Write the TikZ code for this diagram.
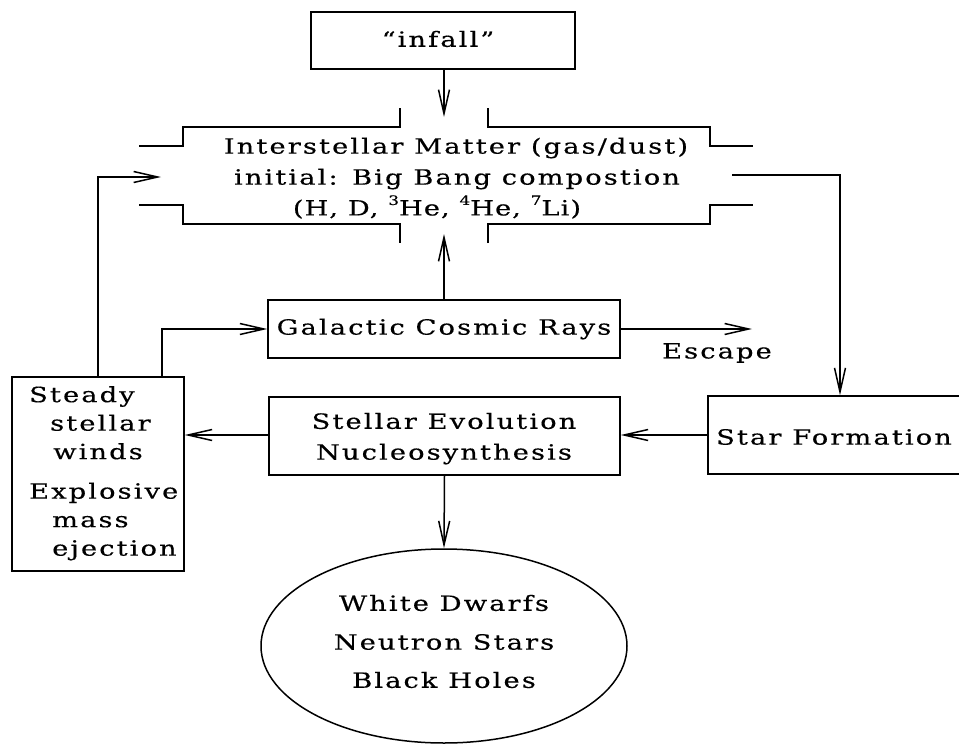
\documentclass[tikz,border=0pt]{standalone}
\usepackage{fontspec}
\newfontfamily\plotfont[Ligatures=TeX,FakeStretch=1.3,FakeBold=0.4,LetterSpace=10]{DejaVu Serif}
\newfontfamily\plotfonttight[Ligatures=TeX,FakeStretch=1.3,FakeBold=0.4,LetterSpace=5]{DejaVu Serif}
\newcommand\massno[1]{\raisebox{0.5em}{\fontsize{13}{13}\selectfont#1}}
\usetikzlibrary{arrows.meta,shapes.geometric}
\begin{document}
\begin{tikzpicture}[x=1pt,y=-1pt,
  every node/.style={font=\plotfont\fontsize{21}{28.5}\selectfont, inner sep=0pt},
  tight/.style={font=\plotfonttight\fontsize{21}{28.5}\selectfont},
  box/.style={draw, line width=1.5pt},
  wire/.style={line width=1.5pt},
  flow/.style={line width=1.5pt, -{Straight Barb[length=24pt,width=11pt,line width=1.5pt]}}]
\useasboundingbox (0,0) rectangle (959,744);

% boxes
\node[box, minimum width=264, minimum height=57] (infall) at (443,40.5) {};
\node (infalltext) at (438,39) {``infall''};
\node[box, minimum width=352, minimum height=58] (gcr) at (444,329) {Galactic Cosmic Rays};
\node[box, minimum width=351, minimum height=78] (sev) at (444.5,436) {};
\node (sev1) at (444,421) {Stellar Evolution};
\node (sev2) at (444,454) {Nucleosynthesis};
\node[box, minimum width=260, minimum height=78] (sf) at (838,435) {};
\node[anchor=west] (sftext) at (716,437) {Star Formation};
\node[box, minimum width=172, minimum height=194] (ej) at (98,474) {};
\node[anchor=north west, align=left] (ejtext) at (29,386)
  {Steady\\\hspace*{21pt}stellar\\\hspace*{24pt}winds\\[11pt]
   Explosive\\\hspace*{23pt}mass\\\hspace*{23pt}ejection};
\node[box, ellipse, minimum width=366, minimum height=194] (rem) at (444,646) {};
\node (rem1) at (444,603) {White Dwarfs};
\node (rem2) at (444,642) {Neutron Stars};
\node (rem3) at (444,680) {Black Holes};

% interstellar matter: cross-shaped outline with open arms
\node (ism1) at (456,148) {Interstellar Matter (gas/dust)};
\node (ism2) at (457,179) {initial: Big Bang compostion};
\node[tight] (ism3) at (437,207) {(H, D, \massno{3}He, \massno{4}He, \massno{7}Li)};
\draw[wire] (139,146) -- (183,146) -- (183,127) -- (400,127) -- (400,108);
\draw[wire] (488,108) -- (488,127) -- (710,127) -- (710,146) -- (753,146);
\draw[wire] (139,205) -- (183,205) -- (183,224) -- (400,224) -- (400,243);
\draw[wire] (488,243) -- (488,224) -- (710,224) -- (710,205) -- (753,205);
\coordinate (ismtop) at (444,117);
\coordinate (ismbot) at (444,234);
\coordinate (ismleft) at (161,177);
\coordinate (ismright) at (732,175);
\coordinate (escape) at (752,329);

% connectors
\draw[flow] (infall.south -| 444,0) -- (ismtop);
\draw[flow] (gcr.north) -- (ismbot);
\draw[flow] (ismright) -| (sf.north -| 840,0);
\draw[flow] (ej.north -| 98,0) |- (ismleft);
\draw[flow] (ej.north -| 162,0) |- (gcr.west);
\draw[flow] (gcr.east) -- (escape);
\node (esc) at (717,353) {Escape};
\draw[flow] (sf.west |- 0,435) -- (sev.east |- 0,435);
\draw[flow] (sev.west |- 0,435) -- (ej.east |- 0,435);
\draw[flow] (sev.south) -- (rem.north);
\end{tikzpicture}
\end{document}
